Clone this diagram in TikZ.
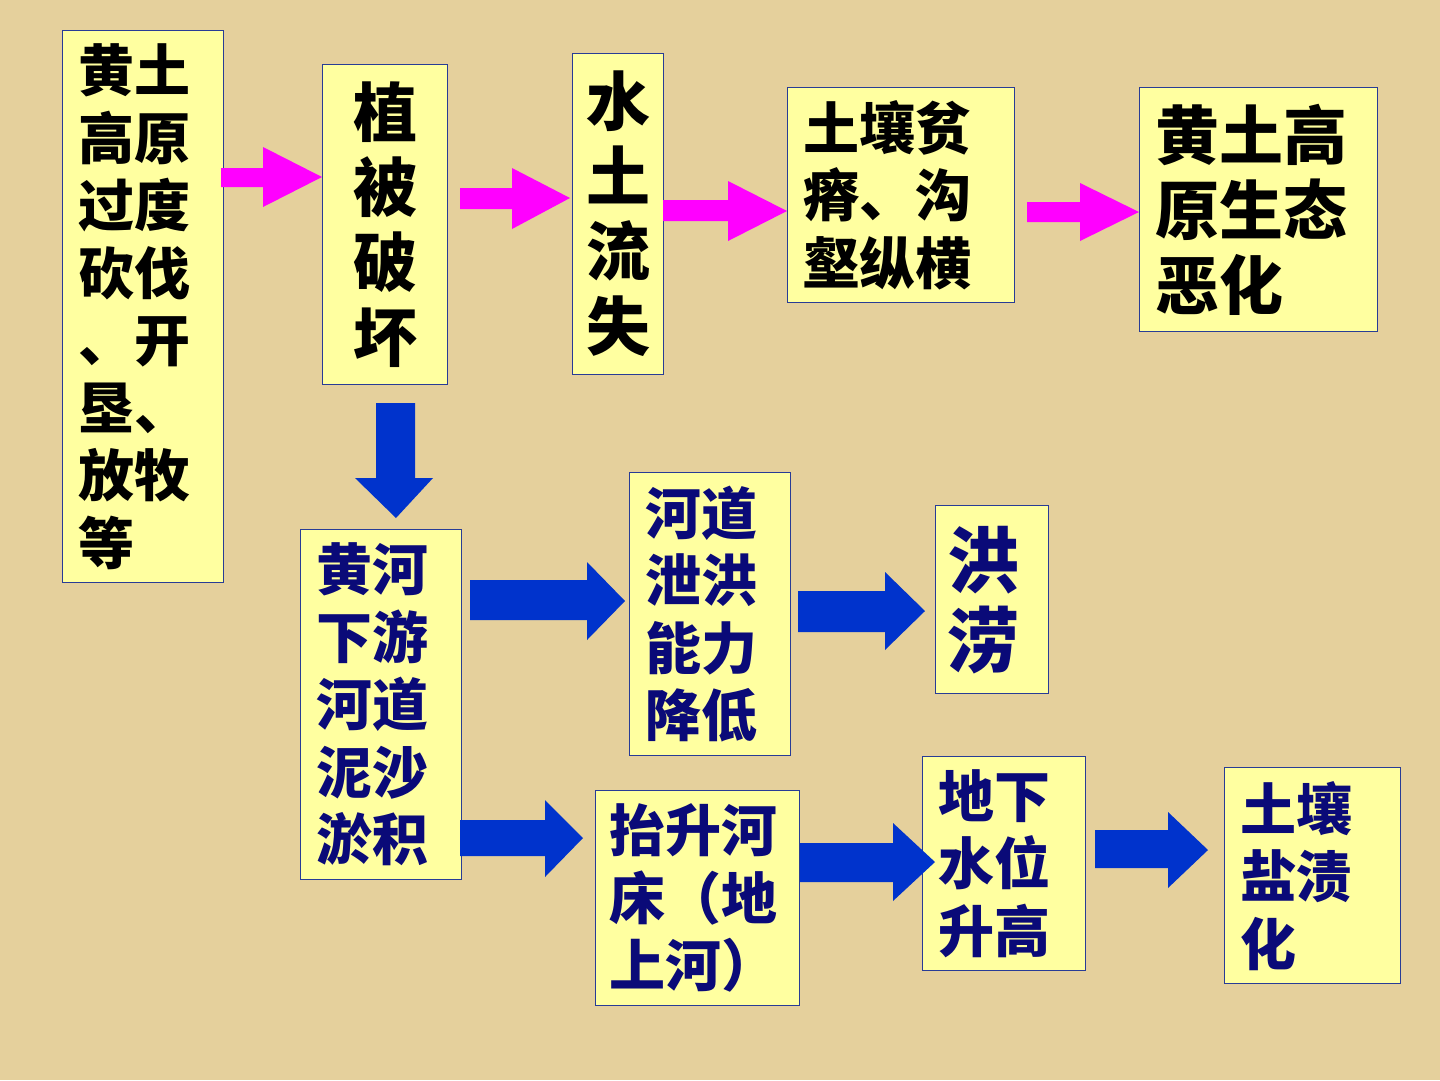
\documentclass[tikz,border=0pt]{standalone}
\usepackage{fontspec}
\setmainfont{Noto Sans CJK SC}
\definecolor{bg}{RGB}{229,208,156}
\definecolor{boxfill}{RGB}{255,255,160}
\definecolor{boxline}{RGB}{40,60,150}
\definecolor{navy}{RGB}{10,10,120}
\definecolor{arrblue}{RGB}{0,51,204}
\definecolor{arrmag}{RGB}{255,0,255}
\tikzset{
  box/.style={draw=boxline, line width=1.3pt, fill=boxfill, inner xsep=16pt, inner ysep=0pt, anchor=north west, align=left},
  fs/.style={font=\fontsize{56}{67.5}\selectfont\bfseries},
  fl/.style={font=\fontsize{64}{75}\selectfont\bfseries},
  magarrow/.style={fill=arrmag},
  bluearrow/.style={fill=arrblue}
}
\begin{document}
\begin{tikzpicture}[x=1pt,y=-1pt]
\fill[bg] (0,0) rectangle (1440,1080);
\useasboundingbox (0,0) rectangle (1440,1080);

% top row
\node[box, fs, minimum width=161, minimum height=552, text width=129] (n1) at (62,30)
  {黄土\\高原\\过度\\砍伐\\、开\\垦、\\放牧\\等};
\node[box, fl, minimum width=125, minimum height=320, text width=93, align=center] (n2) at (322,64)
  {植\\被\\破\\坏};
\node[box, fl, inner xsep=8pt, minimum width=91, minimum height=321, text width=75, align=center] (n3) at (572,53)
  {水\\土\\流\\失};
\node[box, fs, minimum width=227, minimum height=215, text width=195] (n4) at (787,87)
  {土壤贫\\瘠、沟\\壑纵横};
\node[box, fl, minimum width=238, minimum height=244, text width=206] (n5) at (1139,87)
  {黄土高\\原生态\\恶化};

% bottom rows
\node[box, fs, text=navy, minimum width=161, minimum height=350, text width=129] (n6) at (300,529)
  {黄河\\下游\\河道\\泥沙\\淤积};
\node[box, fs, text=navy, minimum width=161, minimum height=283, text width=129] (n7) at (629,472)
  {河道\\泄洪\\能力\\降低};
\node[box, text=navy, font=\fontsize{72}{80}\selectfont\bfseries, inner xsep=12pt, minimum width=113, minimum height=188, text width=89] (n8) at (935,505)
  {洪\\涝};
\node[box, fs, text=navy, inner xsep=14pt, minimum width=204, minimum height=215, text width=176] (n9) at (595,790)
  {抬升河\\床（地\\上河）};
\node[box, fs, text=navy, minimum width=163, minimum height=214, text width=131] (n10) at (922,756)
  {地下\\水位\\升高};
\node[box, fs, text=navy, minimum width=176, minimum height=216, text width=144] (n11) at (1224,767)
  {土壤\\盐渍\\化};

% magenta arrows
\fill[magarrow] (221,168) -- (263,168) -- (263,147) -- (322,177) -- (263,207) -- (263,187) -- (221,187) -- cycle;
\fill[magarrow] (460,188) -- (512,188) -- (512,168) -- (570,198) -- (512,229) -- (512,209) -- (460,209) -- cycle;
\fill[magarrow] (663,200) -- (728,200) -- (728,181) -- (787,211) -- (728,241) -- (728,221) -- (663,221) -- cycle;
\fill[magarrow] (1027,202) -- (1080,202) -- (1080,183) -- (1139,212) -- (1080,241) -- (1080,222) -- (1027,222) -- cycle;

% blue arrows
\fill[bluearrow] (376,403) -- (415,403) -- (415,478) -- (433,478) -- (396,518) -- (355,478) -- (376,478) -- cycle;
\fill[bluearrow] (470,580) -- (587,580) -- (587,562) -- (625,601) -- (587,640) -- (587,620) -- (470,620) -- cycle;
\fill[bluearrow] (798,591) -- (885,591) -- (885,572) -- (925,611) -- (885,650) -- (885,632) -- (798,632) -- cycle;
\fill[bluearrow] (460,820) -- (545,820) -- (545,800) -- (583,838) -- (545,877) -- (545,856) -- (460,856) -- cycle;
\fill[bluearrow] (800,843) -- (893,843) -- (893,823) -- (935,862) -- (893,901) -- (893,882) -- (800,882) -- cycle;
\fill[bluearrow] (1095,830) -- (1168,830) -- (1168,812) -- (1208,850) -- (1168,888) -- (1168,868) -- (1095,868) -- cycle;
\end{tikzpicture}
\end{document}
